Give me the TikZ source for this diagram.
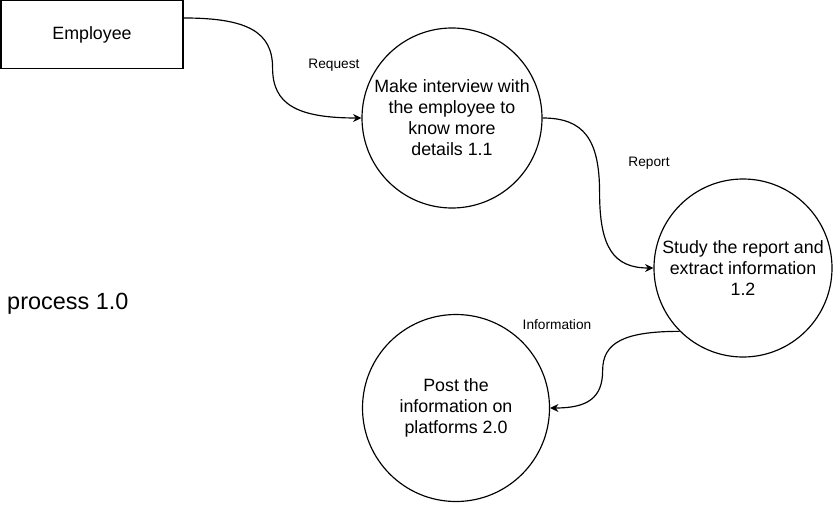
\documentclass[tikz,border=0pt]{standalone}
\usepackage{fontspec}
\setmainfont{Liberation Sans}
\usetikzlibrary{arrows.meta,positioning,calc}

\begin{document}
\begin{tikzpicture}[
  x=0.03cm, y=-0.03cm,
  every node/.style={
    align=center,
    inner sep=0pt,
    font=\fontsize{15.2}{17.9}\selectfont
  },
  entity/.style={draw, line width=1pt, minimum width=5.46cm, minimum height=2.03cm},
  proc/.style={draw, circle, line width=1pt},
  flowlabel/.style={font=\fontsize{11.7}{14}\selectfont},
  arrow/.style={-{Stealth[length=2.5mm, width=2.4mm]}, line width=1pt}
]
  \useasboundingbox (0,0) rectangle (834,505);

  \node[entity] (emp) at (92,34.5) {Employee};
  \node[proc, minimum size=5.4cm] (make) at (452,118) {Make interview with\\the employee to\\know more\\details 1.1};
  \node[proc, minimum size=5.34cm] (study) at (743,268) {Study the report and\\extract information\\1.2};
  \node[proc, minimum size=5.61cm] (post) at (456,408) {Post the\\information on\\platforms 2.0};
  \node[anchor=west, font=\fontsize{20}{24}\selectfont] (title) at (7,304) {process 1.0};

  \node[flowlabel] (req) at (334,65) {Request};
  \node[flowlabel] (rep) at (649,163) {Report};
  \node[flowlabel] (inf) at (557,325) {Information};

  \coordinate (empout) at ($(emp.north east)!0.26!(emp.south east)$);

  \draw[arrow] (empout) .. controls +(64,0) and +(0,-36) .. ++(89,50)
    .. controls +(0,36) and +(-65,0) .. (make.west);
  \draw[arrow] (make.east) .. controls +(41,0) and +(0,-54) .. ++(57,75)
    .. controls +(0,54) and +(-40,0) .. (study.west);
  \draw[arrow] (study.south west) .. controls +(-55,0) and +(0,-28) .. ++(-77,39)
    .. controls +(0,28) and +(37,0) .. (post.east);
\end{tikzpicture}
\end{document}
